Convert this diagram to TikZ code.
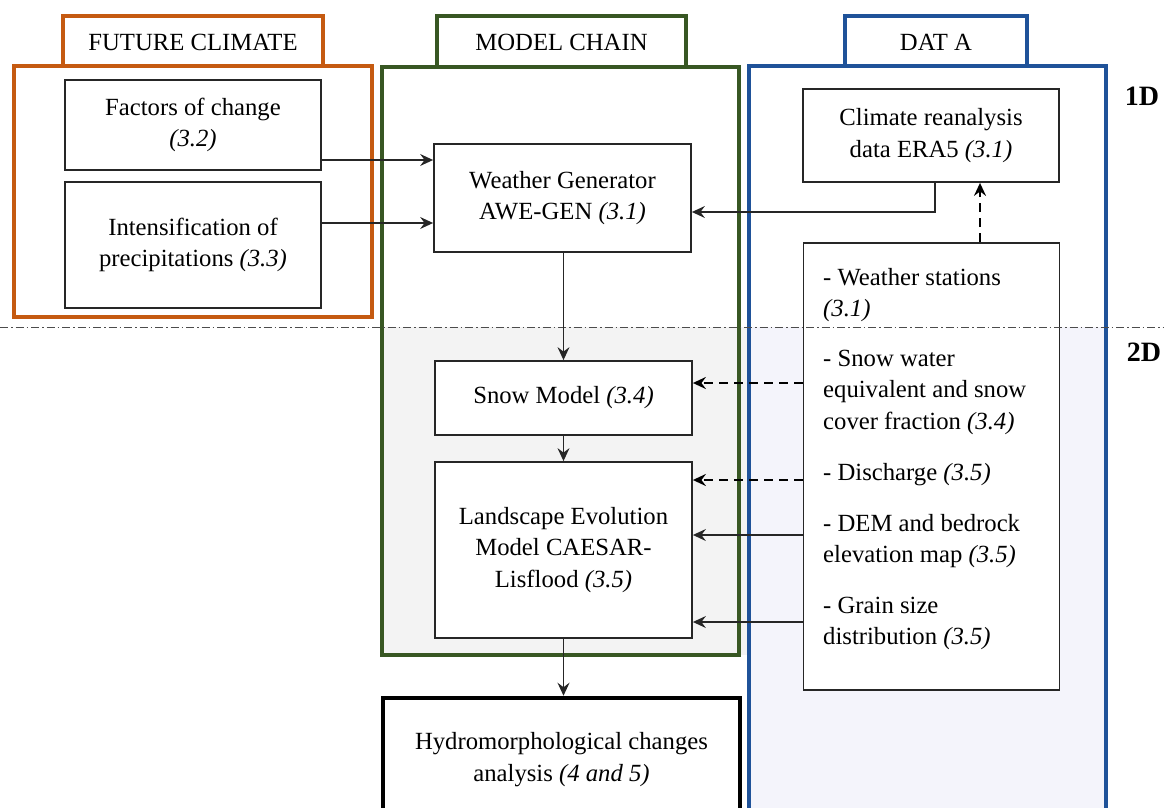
\documentclass[tikz,border=0pt]{standalone}
\usepackage{fontspec}
\setmainfont{Liberation Serif}
\usetikzlibrary{arrows.meta,calc}
\definecolor{orng}{HTML}{C55A11}
\definecolor{grn}{HTML}{385723}
\definecolor{blu}{HTML}{1F5299}
\definecolor{shgray}{HTML}{F3F3F3}
\definecolor{shblue}{HTML}{F4F4FB}
\begin{document}
\begin{tikzpicture}[x=1pt,y=-1pt,
  font=\fontsize{24.7}{31.5}\selectfont,
  box/.style={draw=black!85, line width=1.8pt, fill=white, align=center, inner sep=0pt},
  frame/.style={line width=3.5pt},
  txt/.style={inner sep=0pt, align=center},
  ltxt/.style={inner sep=0pt, anchor=base west},
  lbl/.style={inner sep=0pt, font=\fontsize{28}{30}\selectfont\bfseries},
  arr/.style={-{Stealth[length=13pt,width=12pt,inset=4.5pt]}, line width=1.2pt, black!85},
  darr/.style={-{Stealth[length=13pt,width=12pt,inset=4.5pt]}, line width=2.4pt, black, dash pattern=on 9pt off 6pt},
  dashdot/.style={line width=0.9pt, black!70, dash pattern=on 8pt off 3pt on 1.5pt off 3pt}]
\useasboundingbox (0,0) rectangle (1164,808);
\clip (0,0) rectangle (1164,808);

% shaded 2D area
\fill[shgray] (382,327) rectangle (749,655);
\fill[shblue] (749,327) rectangle (1106,808);

% frames and tabs
\draw[orng, frame] (63,66) -- (63,16) -- (323,16) -- (323,66);
\draw[orng, frame] (14,66) rectangle (372,317);
\node[txt] (tabfc) at (193,42) {FUTURE CLIMATE};

\draw[grn, frame] (437,67) -- (437,16) -- (686,16) -- (686,67);
\draw[grn, frame] (382,67) rectangle (739,655);
\node[txt] (tabmc) at (561.5,42) {MODEL CHAIN};

\draw[blu, frame] (845,66) -- (845,16) -- (1027,16) -- (1027,66);
\draw[blu, frame] (749,66) rectangle (1106,830);
\node[txt] (tabda) at (936,42) {DAT A};

% boxes
\node[box, minimum width=256pt, minimum height=90pt] (fac) at (193,125)
  {Factors of change\\\textit{(3.2)}};
\node[box, minimum width=256pt, minimum height=126pt] (int) at (193,245)
  {Intensification of\\precipitations \textit{(3.3)}};
\node[box, minimum width=257pt, minimum height=108pt] (wg) at (562.5,198)
  {Weather Generator\\AWE-GEN \textit{(3.1)}};
\node[box, minimum width=256pt, minimum height=93pt] (era) at (931,135.5)
  {Climate reanalysis\\data ERA5 \textit{(3.1)}};
\node[box, minimum width=257pt, minimum height=74pt] (snow) at (563.5,398)
  {Snow Model \textit{(3.4)}};
\node[box, minimum width=257pt, minimum height=176pt] (les) at (563.5,550)
  {Landscape Evolution\\Model CAESAR-\\Lisflood \textit{(3.5)}};
\node[box, minimum width=256pt, minimum height=447pt] (data) at (931.5,466.5) {};
\node[box, draw=black, line width=4.5pt, minimum width=357pt, minimum height=152pt] (hyd) at (561.5,774) {};
\node[txt] (hydt) at (561.5,759.5) {Hydromorphological changes\\analysis \textit{(4 and 5)}};

% data list
\node[ltxt] (d1) at (823,285) {- Weather stations};
\node[ltxt] (d2) at (823,316) {\textit{(3.1)}};
\node[ltxt] (d3) at (823,366) {- Snow water};
\node[ltxt] (d4) at (823,397.5) {equivalent and snow};
\node[ltxt] (d5) at (823,429) {cover fraction \textit{(3.4)}};
\node[ltxt] (d6) at (823,480) {- Discharge \textit{(3.5)}};
\node[ltxt] (d7) at (823,531) {- DEM and bedrock};
\node[ltxt] (d8) at (823,562.5) {elevation map \textit{(3.5)}};
\node[ltxt] (d9) at (823,613) {- Grain size};
\node[ltxt] (d10) at (823,644.5) {distribution \textit{(3.5)}};

% dimension labels
\node[lbl] (l1) at (1142,96) {1D};
\node[lbl] (l2) at (1144,352) {2D};

% 1D / 2D separator
\draw[dashdot] (0,327) -- (1164,327);

% connectors
\draw[arr] (fac.east |- 0,160) -- (wg.west |- 0,160);
\draw[arr] (int.east |- 0,223) -- (wg.west |- 0,223);
\draw[arr] (era.south -| 935,0) -- (935,212) -- (wg.east |- 0,212);
\draw[darr] (data.north -| 980,0) -- (era.south -| 980,0);
\draw[arr] (wg.south -| snow.north) -- (snow.north);
\draw[arr] (snow.south) -- (les.north);
\draw[darr] (data.west |- 0,383) -- (snow.east |- 0,383);
\draw[darr] (data.west |- 0,480) -- (les.east |- 0,480);
\draw[arr] (data.west |- 0,535) -- (les.east |- 0,535);
\draw[arr] (data.west |- 0,622) -- (les.east |- 0,622);
\draw[arr] (les.south) -- (les.south |- hyd.north);
\end{tikzpicture}
\end{document}
